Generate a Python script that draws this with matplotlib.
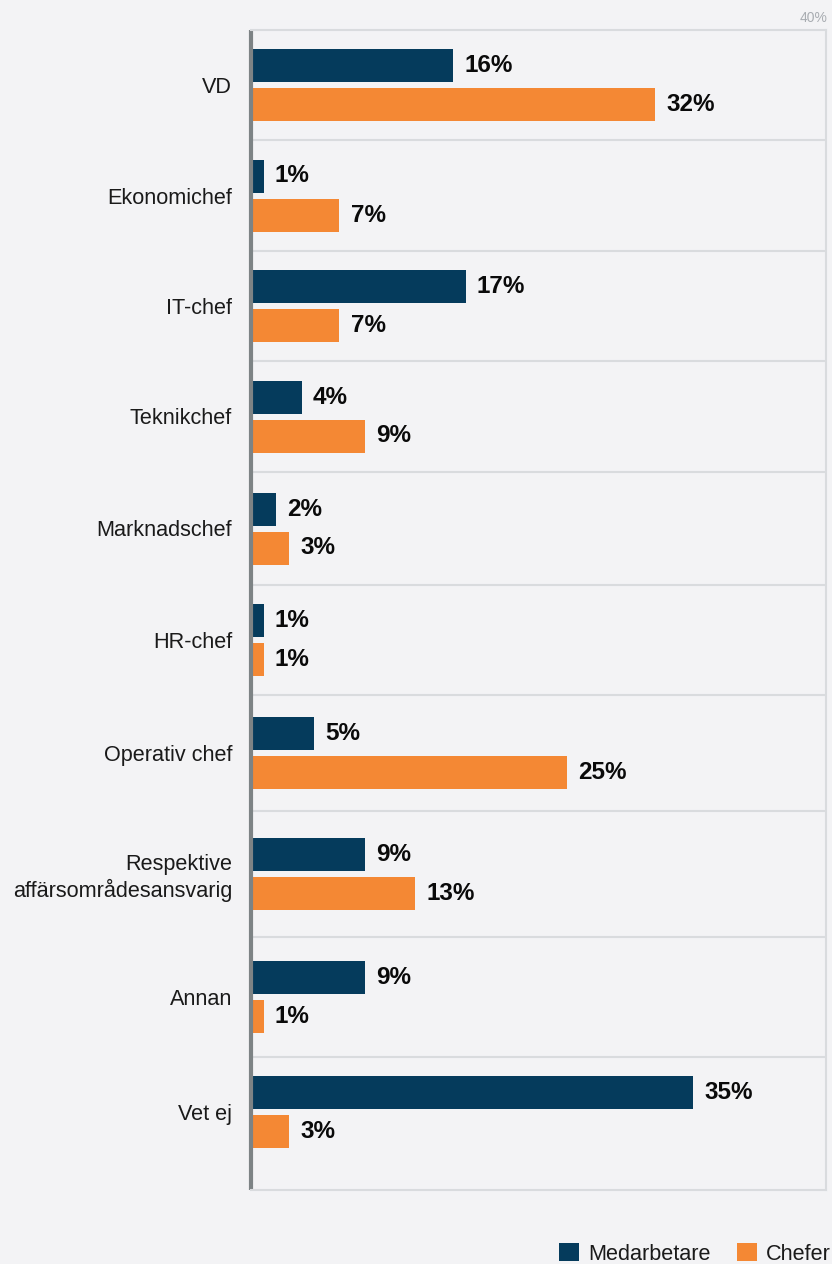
import matplotlib
matplotlib.use("Agg")
import matplotlib.pyplot as plt
import numpy as np

categories = ["VD", "Ekonomichef", "IT-chef", "Teknikchef", "Marknadschef",
              "HR-chef", "Operativ chef", "Respektive\naffärsområdesansvarig",
              "Annan", "Vet ej"]
medarbetare = [16, 1, 17, 4, 2, 1, 5, 9, 9, 35]
chefer = [32, 7, 7, 9, 3, 1, 25, 13, 1, 3]

NAVY = "#053b5c"
ORANGE = "#f48834"
BG = "#f3f3f5"
GRID = "#d9dbde"

plt.rcParams["font.family"] = ["Liberation Sans", "DejaVu Sans"]

# row heights in pixel units (the two-line label row is taller)
row_heights = [110, 111, 110, 111, 113, 110, 116, 126, 120, 110]
bottom_pad = 23
edges = np.concatenate([[0], np.cumsum(row_heights)])
centers = (edges[:-1] + edges[1:]) / 2
bar_h = 33
offset = 19.5

fig = plt.figure(figsize=(8.32, 12.64), dpi=100, facecolor=BG)
ax = fig.add_axes([251 / 832, 1 - 1190 / 1264, 575 / 832, 1160 / 1264])
ax.set_facecolor(BG)

b1 = ax.barh(centers - offset, medarbetare, height=bar_h, color=NAVY, label="Medarbetare")
b2 = ax.barh(centers + offset, chefer, height=bar_h, color=ORANGE, label="Chefer")
for bars in (b1, b2):
    ax.bar_label(bars, labels=[f"{v}%" for v in bars.datavalues], padding=8,
                 fontsize=17.5, fontweight="bold", color="#0a0a0a")

for y in edges[1:-1]:
    ax.axhline(y, color=GRID, lw=1.5, zorder=0)

ax.set_xlim(0, 45.5)
ax.set_ylim(edges[-1] + bottom_pad, 0)
ax.set_xticks([])
ax.set_yticks(centers)
ax.set_yticklabels(categories, fontsize=15.6, color="#1a1a1a", linespacing=1.2)
ax.tick_params(axis="y", length=0, pad=13.5)

for side in ("top", "right", "bottom"):
    ax.spines[side].set_color(GRID)
    ax.spines[side].set_linewidth(1.5)
ax.spines["left"].set_color("#7d8385")
ax.spines["left"].set_linewidth(3)
ax.spines["left"].set_capstyle("butt")

ax.text(1.002, 1.004, "40%", transform=ax.transAxes, ha="right", va="bottom",
        fontsize=10, color="#a9adb2")

fig.legend(loc="lower right", bbox_to_anchor=(1.022, -0.016), ncol=2, frameon=False,
           handlelength=0.92, handleheight=0.92, handletextpad=0.42, columnspacing=1.2,
           fontsize=15.6, labelcolor="#1a1a1a")

fig.savefig("out.png", dpi=100, facecolor=BG)
